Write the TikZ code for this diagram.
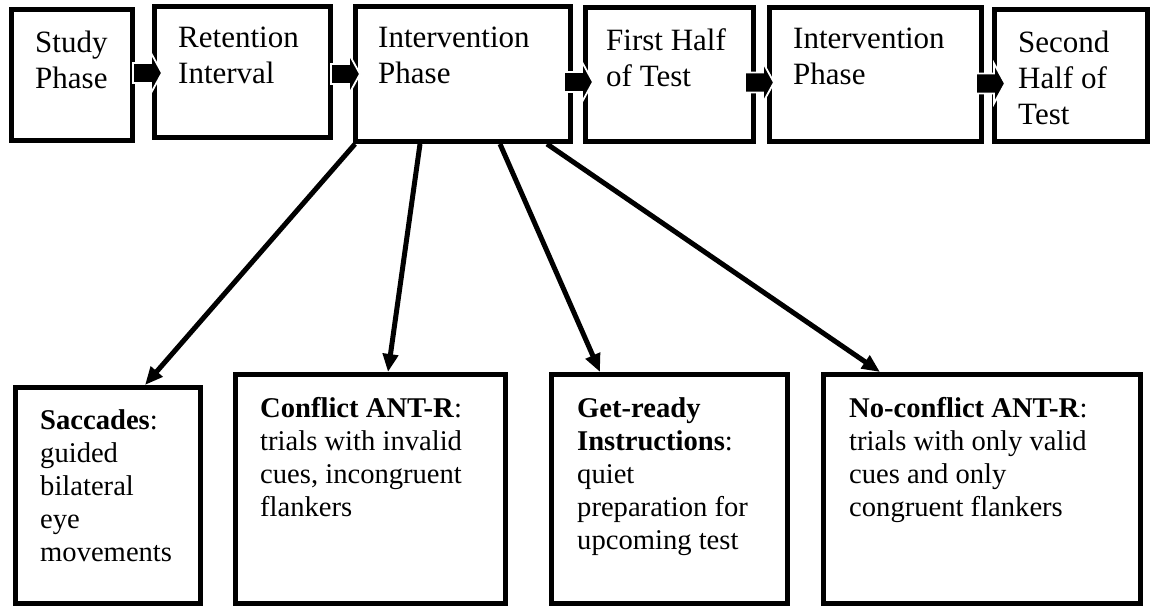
\documentclass[tikz,border=0pt]{standalone}
\usepackage{fontspec}
\setmainfont{Liberation Serif}
\usetikzlibrary{arrows.meta}
\begin{document}
\begin{tikzpicture}[x=1pt,y=-1pt,
  box/.style={draw, line width=5pt, inner sep=0pt, outer sep=2.5pt, fill=white},
  ttext/.style={anchor=north west, inner sep=0pt, align=left, font=\fontsize{31pt}{36pt}\selectfont},
  btext/.style={anchor=north west, inner sep=0pt, align=left, font=\fontsize{28.6pt}{33pt}\selectfont},
  barr/.style={fill=black, draw=white, line width=1.8pt, line join=miter},
  conn/.style={line width=5pt, -{Triangle[length=18pt,width=15pt]}}]
\fill[white] (0,0) rectangle (1153,607);
\useasboundingbox (0,0) rectangle (1153,607);
% top row
\node[box, minimum width=121pt, minimum height=131pt] (study) at (72,75) {};
\node[box, minimum width=176pt, minimum height=131pt] (ret) at (242.5,72) {};
\node[box, minimum width=215pt, minimum height=135pt] (int1) at (463,74) {};
\node[box, minimum width=168pt, minimum height=134pt] (first) at (669.5,74.5) {};
\node[box, minimum width=212pt, minimum height=134pt] (int2) at (875.5,74.5) {};
\node[box, minimum width=153pt, minimum height=132pt] (second) at (1071,75.5) {};
\node[ttext] (studyT) at ([xshift=26pt,yshift=-24pt]study.north west) {Study\\Phase};
\node[ttext] (retT) at ([xshift=26pt,yshift=-23pt]ret.north west) {Retention\\Interval};
\node[ttext] (int1T) at ([xshift=25pt,yshift=-23pt]int1.north west) {Intervention\\Phase};
\node[ttext] (firstT) at ([xshift=23pt,yshift=-23pt]first.north west) {First Half\\of Test};
\node[ttext] (int2T) at ([xshift=26pt,yshift=-23pt]int2.north west) {Intervention\\Phase};
\node[ttext] (secondT) at ([xshift=26pt,yshift=-24pt]second.north west) {Second\\Half of\\Test};
% block arrows
\filldraw[barr] ([xshift=-2pt,yshift=2pt]study.east) ++(0,-10) -- ++(18,0) -- ++(0,-10) -- ++(11,20) -- ++(-11,20) -- ++(0,-10) -- ++(-18,0) -- cycle;
\filldraw[barr] ([xshift=-2pt,yshift=-2pt]ret.east) ++(0,-10) -- ++(18,0) -- ++(0,-10) -- ++(11,20) -- ++(-11,20) -- ++(0,-10) -- ++(-18,0) -- cycle;
\filldraw[barr] ([xshift=-9pt,yshift=-8pt]int1.east) ++(0,-10) -- ++(18,0) -- ++(0,-10) -- ++(11,20) -- ++(-11,20) -- ++(0,-10) -- ++(-18,0) -- cycle;
\filldraw[barr] ([xshift=-11pt,yshift=-8pt]first.east) ++(0,-10) -- ++(18,0) -- ++(0,-10) -- ++(11,20) -- ++(-11,20) -- ++(0,-10) -- ++(-18,0) -- cycle;
\filldraw[barr] ([xshift=-8pt,yshift=-9pt]int2.east) ++(0,-10) -- ++(18,0) -- ++(0,-10) -- ++(11,20) -- ++(-11,20) -- ++(0,-10) -- ++(-18,0) -- cycle;
% bottom row
\node[box, minimum width=185pt, minimum height=216pt] (sac) at (108,495.5) {};
\node[box, minimum width=270pt, minimum height=229pt] (con) at (370.5,489) {};
\node[box, minimum width=236pt, minimum height=229pt] (get) at (669.5,489) {};
\node[box, minimum width=317pt, minimum height=229pt] (nocon) at (982,489) {};
\node[btext] (sacT) at ([xshift=27pt,yshift=-24pt]sac.north west) {\textbf{Saccades}:\\guided\\bilateral\\eye\\movements};
\node[btext] (conT) at ([xshift=27pt,yshift=-25pt]con.north west) {\textbf{Conflict ANT-R}:\\trials with invalid\\cues, incongruent\\flankers};
\node[btext] (getT) at ([xshift=28pt,yshift=-25pt]get.north west) {\textbf{Get-ready}\\\textbf{Instructions}:\\quiet\\preparation for\\upcoming test};
\node[btext] (noconT) at ([xshift=28pt,yshift=-25pt]nocon.north west) {\textbf{No-conflict ANT-R}:\\trials with only valid\\cues and only\\congruent flankers};
% connectors
\draw[conn] ([xshift=2pt]int1.south west) -- ([xshift=132pt]sac.north west);
\draw[conn] ([xshift=67pt]int1.south west) -- ([xshift=155pt]con.north west);
\draw[conn] ([xshift=147pt]int1.south west) -- ([xshift=51pt]get.north west);
\draw[conn] ([xshift=194pt]int1.south west) -- ([xshift=59pt]nocon.north west);
\end{tikzpicture}
\end{document}
